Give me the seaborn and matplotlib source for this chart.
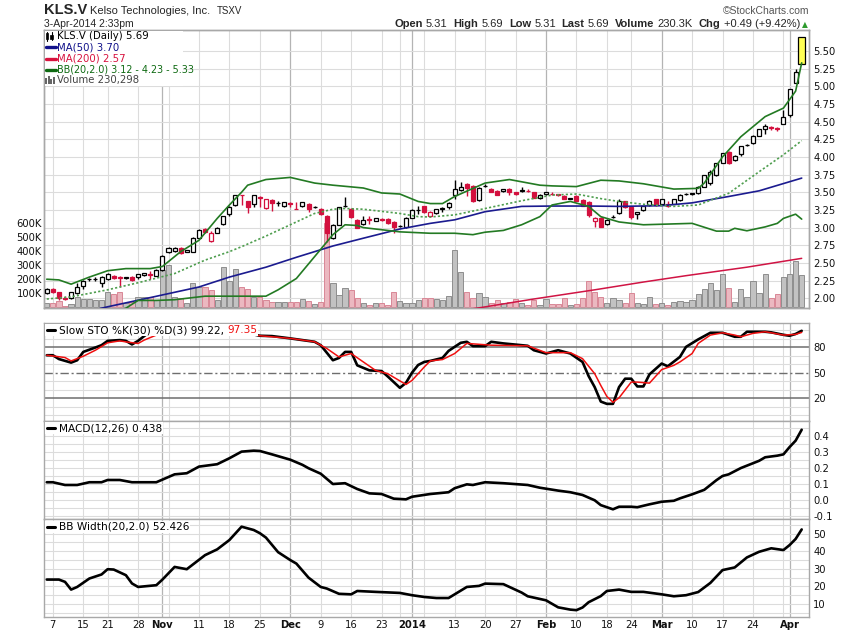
import numpy as np
import pandas as pd
import matplotlib
matplotlib.use("Agg")
import matplotlib.pyplot as plt
from matplotlib.lines import Line2D
from matplotlib.patches import Rectangle
from matplotlib.transforms import blended_transform_factory
import seaborn as sns

sns.set_theme(style="white")
plt.rcParams['font.family'] = ['DejaVu Sans']

# ---------------- data ----------------
holidays = ['2013-10-14', '2013-12-25', '2013-12-26', '2014-01-01', '2014-02-17']
dates = pd.bdate_range('2013-10-04', '2014-04-03', freq='C', holidays=holidays)

opens = [2.07, 2.13, 2.085, 1.99, 2.00, 2.07, 2.18, 2.27, 2.27, 2.22,
         2.27, 2.32, 2.30, 2.29, 2.305, 2.306, 2.325, 2.345, 2.32, 2.40,
         2.65, 2.67, 2.71, 2.66, 2.66, 2.85, 2.98, 2.81, 2.93, 3.05,
         3.19, 3.32, 3.46, 3.37, 3.34, 3.43, 3.28, 3.39, 3.35, 3.30,
         3.35, 3.27, 3.30, 3.34, 3.29, 3.27, 3.17, 2.85, 3.04, 3.30,
         3.27, 3.11, 3.05, 3.12, 3.10, 3.115, 3.12, 3.08, 3.02, 3.01,
         3.14, 3.25, 3.30, 3.16, 3.21, 3.27, 3.29, 3.46, 3.53, 3.62,
         3.59, 3.39, 3.585, 3.55, 3.52, 3.52, 3.55, 3.50, 3.52, 3.52,
         3.50, 3.42, 3.47, 3.48, 3.47, 3.45, 3.41, 3.45, 3.39, 3.36,
         3.09, 3.14, 3.05, 3.15, 3.20, 3.375, 3.295, 3.186, 3.25, 3.32,
         3.40, 3.33, 3.34, 3.34, 3.39, 3.475, 3.475, 3.49, 3.58, 3.63,
         3.74, 3.92, 4.07, 3.955, 4.04, 4.17, 4.19, 4.30, 4.39, 4.42,
         4.405, 4.465, 4.59, 5.05, 5.31]
highs = [2.14, 2.14, 2.09, 2.03, 2.09, 2.21, 2.26, 2.29, 2.30, 2.31,
         2.36, 2.33, 2.31, 2.30, 2.31, 2.35, 2.36, 2.39, 2.41, 2.61,
         2.72, 2.72, 2.72, 2.69, 2.86, 2.98, 2.99, 2.95, 3.01, 3.17,
         3.30, 3.46, 3.46, 3.38, 3.46, 3.44, 3.40, 3.40, 3.37, 3.36,
         3.36, 3.36, 3.36, 3.35, 3.30, 3.28, 3.18, 3.05, 3.29, 3.43,
         3.28, 3.12, 3.17, 3.17, 3.14, 3.13, 3.13, 3.09, 3.03, 3.15,
         3.26, 3.31, 3.31, 3.23, 3.27, 3.29, 3.36, 3.68, 3.64, 3.63,
         3.60, 3.57, 3.61, 3.56, 3.53, 3.55, 3.56, 3.51, 3.57, 3.55,
         3.51, 3.47, 3.51, 3.51, 3.48, 3.46, 3.42, 3.46, 3.40, 3.37,
         3.15, 3.15, 3.12, 3.18, 3.41, 3.38, 3.30, 3.22, 3.31, 3.39,
         3.41, 3.41, 3.37, 3.41, 3.48, 3.49, 3.49, 3.59, 3.75, 3.82,
         3.92, 4.06, 4.08, 4.02, 4.16, 4.18, 4.31, 4.40, 4.46, 4.44,
         4.43, 4.67, 4.96, 5.25, 5.69]
lows = [2.06, 2.08, 1.97, 1.97, 1.99, 2.06, 2.13, 2.25, 2.24, 2.16,
        2.26, 2.28, 2.155, 2.28, 2.25, 2.27, 2.32, 2.27, 2.31, 2.38,
        2.64, 2.66, 2.62, 2.65, 2.65, 2.84, 2.93, 2.80, 2.92, 3.03,
        3.16, 3.31, 3.32, 3.20, 3.29, 3.29, 3.27, 3.23, 3.30, 3.29,
        3.29, 3.26, 3.29, 3.22, 3.28, 3.18, 2.80, 2.84, 3.03, 3.29,
        3.14, 2.99, 3.04, 3.05, 3.09, 3.09, 3.05, 2.93, 3.01, 3.00,
        3.13, 3.19, 3.20, 3.15, 3.19, 3.22, 3.27, 3.40, 3.52, 3.44,
        3.36, 3.38, 3.57, 3.50, 3.46, 3.51, 3.46, 3.46, 3.51, 3.51,
        3.42, 3.41, 3.46, 3.46, 3.44, 3.40, 3.40, 3.37, 3.30, 3.15,
        3.01, 3.01, 3.04, 3.14, 3.19, 3.28, 3.12, 3.12, 3.24, 3.31,
        3.31, 3.32, 3.29, 3.33, 3.38, 3.46, 3.46, 3.48, 3.57, 3.60,
        3.73, 3.91, 3.90, 3.94, 4.01, 4.15, 4.18, 4.29, 4.33, 4.38,
        4.37, 4.46, 4.57, 5.04, 5.31]
closes = [2.13, 2.085, 2.01, 2.005, 2.085, 2.155, 2.245, 2.275, 2.28, 2.30,
          2.35, 2.29, 2.285, 2.295, 2.26, 2.34, 2.355, 2.335, 2.40, 2.60,
          2.71, 2.715, 2.636, 2.68, 2.85, 2.97, 2.94, 2.93, 3.00, 3.16,
          3.29, 3.46, 3.455, 3.29, 3.46, 3.425, 3.40, 3.35, 3.355, 3.36,
          3.33, 3.265, 3.36, 3.26, 3.29, 3.19, 2.93, 3.04, 3.29, 3.31,
          3.15, 3.00, 3.11, 3.105, 3.13, 3.11, 3.06, 3.01, 3.025, 3.14,
          3.25, 3.255, 3.22, 3.215, 3.26, 3.275, 3.35, 3.54, 3.58, 3.56,
          3.37, 3.56, 3.59, 3.50, 3.46, 3.55, 3.51, 3.47, 3.525, 3.515,
          3.42, 3.46, 3.50, 3.475, 3.465, 3.41, 3.415, 3.38, 3.31, 3.18,
          3.14, 3.01, 3.11, 3.155, 3.375, 3.295, 3.155, 3.215, 3.30, 3.375,
          3.32, 3.40, 3.30, 3.40, 3.46, 3.48, 3.485, 3.58, 3.74, 3.79,
          3.91, 4.05, 3.91, 4.01, 4.15, 4.175, 4.30, 4.39, 4.44, 4.415,
          4.40, 4.57, 4.955, 5.20, 5.69]
volume_k = [34, 34, 45, 10, 24, 71, 62, 57, 53, 53,
            107, 97, 107, 30, 35, 76, 71, 76, 53, 265,
            300, 71, 67, 34, 171, 147, 142, 123, 53, 284,
            187, 272, 142, 130, 76, 76, 50, 40, 35, 40,
            35, 40, 60, 45, 25, 40, 600, 171, 88, 140,
            123, 64, 29, 17, 29, 29, 17, 107, 46, 29,
            29, 53, 69, 69, 60, 53, 81, 407, 248, 107,
            64, 100, 74, 29, 53, 34, 41, 60, 29, 17,
            53, 17, 57, 24, 24, 64, 17, 24, 64, 187,
            112, 76, 29, 64, 53, 29, 100, 34, 25, 77,
            25, 34, 17, 41, 46, 41, 53, 93, 128, 171,
            124, 235, 135, 41, 128, 77, 190, 100, 235, 65,
            93, 213, 235, 329, 230.298]

ma50_day = [8, 10, 17, 25, 30, 36, 41, 47, 52, 58, 63, 67, 72, 78, 83, 89, 94, 101, 106, 112, 117, 124]
ma50_val = [1.84, 1.88, 2.01, 2.16, 2.30, 2.44, 2.58, 2.74, 2.85, 2.98, 3.06, 3.11, 3.225, 3.30, 3.305,
            3.305, 3.30, 3.31, 3.35, 3.44, 3.52, 3.70]
ma200_day = [69, 71, 80, 90, 98, 105, 115, 124]
ma200_val = [1.84, 1.865, 1.99, 2.12, 2.23, 2.32, 2.44, 2.565]
bbu_day = [0, 2, 4, 7, 10, 13, 17, 19, 22, 25, 28, 30, 32, 33, 36, 40, 44, 47, 52, 55, 58, 61, 63, 65,
           67, 72, 76, 81, 83, 87, 91, 94, 98, 103, 107, 108, 111, 114, 118, 121, 123, 124]
bbu_val = [2.27, 2.26, 2.20, 2.30, 2.39, 2.42, 2.42, 2.45, 2.66, 2.82, 3.13, 3.32, 3.50, 3.60, 3.68, 3.71,
           3.63, 3.60, 3.56, 3.49, 3.475, 3.37, 3.34, 3.34, 3.44, 3.63, 3.68, 3.60, 3.59, 3.58, 3.67, 3.66,
           3.62, 3.545, 3.555, 3.63, 4.00, 4.285, 4.57, 4.69, 4.93, 5.33]
bbm_day = [0, 4, 10, 15, 21, 26, 30, 32, 36, 41, 44, 47, 49, 52, 58, 61, 63, 67, 72, 78, 83, 87, 91, 94,
           98, 103, 107, 112, 117, 121, 124]
bbm_val = [1.99, 2.02, 2.12, 2.22, 2.35, 2.54, 2.66, 2.73, 2.88, 3.08, 3.20, 3.26, 3.27, 3.26, 3.20, 3.155,
           3.15, 3.18, 3.27, 3.38, 3.46, 3.475, 3.41, 3.37, 3.33, 3.30, 3.32, 3.485, 3.79, 4.03, 4.23]
bbl_day = [10, 13, 15, 18, 21, 24, 26, 29, 33, 36, 38, 41, 44, 47, 49, 51, 52, 55, 58, 63, 67, 70, 72,
           75, 78, 81, 83, 86, 89, 91, 94, 98, 106, 110, 112, 113, 115, 118, 120, 121, 123, 124]
bbl_val = [1.72, 1.86, 1.97, 1.97, 1.98, 2.01, 2.03, 2.03, 2.03, 2.03, 2.12, 2.28, 2.59, 2.90, 3.04, 3.03,
           3.00, 2.97, 2.94, 2.92, 2.92, 2.90, 2.935, 2.96, 3.04, 3.155, 3.32, 3.37, 3.30, 3.155, 3.08,
           3.04, 3.06, 2.95, 2.95, 2.99, 2.955, 3.01, 3.06, 3.13, 3.19, 3.12]

stok_day = [0, 1, 2, 4, 5, 6, 8, 9, 10, 12, 13, 14, 15, 16, 17, 18, 20, 23, 26, 29, 32, 35, 37, 40, 42,
            44, 45, 47, 48, 49, 50, 51, 53, 55, 56, 58, 59, 60, 61, 62, 63, 65, 66, 68, 69, 70, 72, 73,
            75, 79, 80, 82, 84, 86, 88, 89, 90, 91, 92, 93, 94, 95, 96, 97, 98, 99, 101, 102, 104, 105,
            107, 109, 111, 113, 114, 115, 118, 119, 121, 122, 123, 124]
stok_val = [70.5, 70.5, 66, 61.8, 64.6, 74.4, 79.6, 82.3, 87.4, 88.3, 87.4, 83.2, 87.4, 93.0, 98.1, 99,
            99, 97, 99, 100, 98, 93.4, 93, 90.3, 88.3, 86.3, 82.3, 64.6, 67.3, 74.4, 74.4, 58.6, 52.7,
            51.9, 45.6, 32.2, 38, 50, 59, 62.6, 63.8, 67.3, 75.6, 85.1, 86.3, 81.2, 81.2, 86.3, 84.4,
            81.6, 76.4, 72.5, 76.4, 72.5, 62.6, 46, 33, 16, 13.3, 13.3, 33, 42.9, 42.9, 33.8, 33.8, 48,
            60.7, 57.5, 68.5, 80.3, 89.1, 96.9, 96.9, 92.2, 92.2, 98.1, 98.1, 97.4, 94.5, 93.4, 95.5,
            99.22]
stod_day = [0, 3, 4, 6, 8, 10, 12, 13, 15, 16, 18, 20, 23, 26, 29, 32, 35, 40, 44, 46, 48, 50, 52, 54,
            56, 59, 60, 62, 63, 65, 67, 69, 73, 79, 82, 86, 88, 90, 91, 92, 93, 94, 96, 97, 99, 101,
            103, 104, 106, 107, 109, 111, 113, 114, 116, 118, 119, 121, 123, 124]
stod_val = [70.5, 67.8, 63.8, 69.3, 76.4, 85.1, 87.4, 86.2, 84.3, 88.3, 94.2, 97, 98, 98, 99, 98, 93.4,
            90.3, 86.3, 78.4, 68.5, 72.5, 62.6, 52.7, 48.8, 36.1, 40.9, 56.6, 63.8, 65.4, 72.5, 84.4,
            82.3, 81.6, 73.5, 73.5, 66.5, 48.8, 35, 22, 15.2, 20.4, 38.9, 38.9, 37.7, 53.6, 58.6, 62.6,
            72.5, 84.4, 94.2, 96.9, 94.2, 92.2, 96.2, 98.1, 96.9, 94.2, 95, 97.35]

macd_day = [0, 1, 3, 5, 7, 9, 10, 12, 14, 18, 21, 23, 25, 28, 30, 32, 34, 35, 37, 40, 42, 43, 45, 47,
            49, 51, 53, 55, 57, 59, 60, 63, 66, 67, 69, 70, 72, 75, 79, 81, 84, 86, 88, 90, 91, 93, 94,
            96, 97, 99, 101, 103, 104, 106, 108, 110, 111, 112, 114, 117, 118, 120, 121, 122, 123, 124]
macd_val = [0.112, 0.112, 0.095, 0.095, 0.112, 0.112, 0.126, 0.126, 0.112, 0.112, 0.161, 0.168, 0.209,
            0.224, 0.261, 0.302, 0.308, 0.306, 0.285, 0.252, 0.22, 0.199, 0.165, 0.101, 0.106, 0.070,
            0.043, 0.039, 0.010, 0.006, 0.022, 0.039, 0.050, 0.075, 0.099, 0.095, 0.112, 0.106, 0.095,
            0.078, 0.060, 0.050, 0.033, 0.0, -0.03, -0.056, -0.040, -0.040, -0.043, -0.025, -0.009,
            -0.003, 0.012, 0.037, 0.065, 0.125, 0.151, 0.161, 0.20, 0.245, 0.267, 0.277, 0.285, 0.33,
            0.37, 0.438]

bbw_day = [0, 2, 3, 4, 5, 7, 9, 10, 11, 13, 14, 15, 18, 19, 21, 23, 26, 28, 30, 32, 34, 35, 36, 38,
           40, 41, 43, 45, 46, 48, 50, 51, 54, 58, 60, 62, 64, 66, 69, 71, 72, 75, 78, 79, 82, 84, 86,
           87, 88, 89, 91, 92, 94, 96, 98, 101, 103, 105, 107, 109, 111, 113, 115, 117, 119, 121, 122,
           123, 124]
bbw_val = [23.9, 23.9, 22.6, 18.2, 19.7, 24.5, 26.8, 29.8, 29.6, 26.4, 21.7, 19.7, 20.7, 23.9, 31.1,
           29.8, 37.8, 41.1, 46.4, 54.0, 52.1, 50.3, 47.8, 39.5, 35, 33, 25, 19.7, 18.8, 15.8, 15.5,
           17.4, 16.9, 16.3, 15, 14, 13.4, 13.4, 19.7, 20.3, 21.6, 21.3, 16.5, 14.4, 12.1, 8.1, 6.8,
           6.5, 8, 11, 14.5, 17.4, 18.2, 16.9, 16.9, 15.5, 14.4, 15, 16.8, 22, 29.3, 30.8, 36.5, 39.7,
           41.7, 40.7, 43.5, 47, 52.426]

price_ticks = [2.00, 2.25, 2.50, 2.75, 3.00, 3.25, 3.50, 3.75, 4.00, 4.25, 4.50, 4.75, 5.00, 5.25, 5.50]
vol_ticks_k = [100, 200, 300, 400, 500, 600]

# ---------------- styling ----------------
RED = '#D3103E'
NAVY = '#1B1B8F'
MA200C = '#D01444'
GREEN = '#237A23'
GREEN_MID = '#4F9E4F'
GRID = '#DCDCDC'
GRID_DARK = '#B4B4B4'
SPINE = '#A8A8A8'
TICKC = '#111111'

W, H = 850, 633
fig = plt.figure(figsize=(W / 100, H / 100), dpi=100)
fig.patch.set_facecolor('white')
L, R = 44, 809


def fx(px):
    return px / W


def fy(py):
    return 1 - py / H


def add_ax(top, bot):
    return fig.add_axes([fx(L), fy(bot), fx(R) - fx(L), (bot - top) / H])


ax_v = add_ax(30, 308)
ax_p = ax_v.twinx()
ax_s = add_ax(323, 420.7)
ax_m = add_ax(420.7, 519.3)
ax_b = add_ax(519.3, 617)

n = len(closes)
idx = np.arange(n)
o = np.array(opens); h = np.array(highs); lo = np.array(lows); c = np.array(closes)
vol = np.array(volume_k) * 1000.0
prev = np.r_[c[0] - 1, c[:-1]]
up = c >= prev
XL = (-0.45, 125.2)

# trading calendar ticks
dser = pd.Series(dates)
week_first = dser.groupby(dser.dt.isocalendar().week.values).apply(lambda s: s.index[0]).values
month_first = dser.groupby(dser.dt.month.values).apply(lambda s: s.index[0]).values
month_first = [m for m in month_first if m != 0]
grid_pos = sorted(set(list(week_first) + list(month_first)))
grid_pos = [g for g in grid_pos if g > 0]
labels = {}
for m in month_first:
    d = dates[m]
    labels[m] = ('2014' if d.month == 1 else d.strftime('%b'), True)
for wk in week_first:
    if wk == 0 or wk in labels:
        continue
    if any(abs(wk - m) <= 3 for m in month_first):
        continue
    labels[wk] = (str(dates[wk].day), False)
tick_pos = sorted(labels)
tick_lab = [labels[t][0] for t in tick_pos]
tick_bold = [labels[t][1] for t in tick_pos]


def style_axes(ax):
    ax.set_xlim(*XL)
    for s in ax.spines.values():
        s.set_color(SPINE)
        s.set_linewidth(1.0)
    ax.set_xlabel('')
    ax.set_ylabel('')


def vgrid(ax):
    for g in grid_pos:
        ax.axvline(g, color=GRID_DARK if g in month_first else GRID, lw=0.9 if g in month_first else 0.8,
                   zorder=0.3)


def set_xticks(ax, show):
    ax.set_xticks(tick_pos)
    if show:
        ax.set_xticklabels(tick_lab, fontsize=7.2, color=TICKC)
        for tl, b in zip(ax.get_xticklabels(), tick_bold):
            if b:
                tl.set_fontweight('bold')
    else:
        ax.set_xticklabels([])
    ax.tick_params(axis='x', length=0, pad=2.2)


# ---------------- price + volume ----------------
vgrid(ax_v)
trp = blended_transform_factory(ax_v.transAxes, ax_p.transData)
for pt in price_ticks:
    ax_v.add_line(Line2D([0, 1], [pt, pt], transform=trp, color=GRID, lw=0.8, zorder=0.3))

ax_v.bar(idx, vol, width=0.86, color=np.where(up, '#C2C2C2', '#EBB8C0'),
         edgecolor=np.where(up, '#8E8E8E', '#D98796'), linewidth=0.7, zorder=1)
ax_v.set_ylim(-4e3, 1.961e6)
ax_v.set_yticks([v * 1000 for v in vol_ticks_k])
ax_v.set_yticklabels([f'{v}K' for v in vol_ticks_k], fontsize=7.2, color=TICKC)
ax_v.tick_params(axis='y', length=0, pad=1.5)
style_axes(ax_v)
set_xticks(ax_v, True)

col = np.where(up, 'black', RED)
col = col.astype(object)
col[-1] = 'black'
filled = c < o
face = np.where(filled, col, 'white').astype(object)
face[-1] = '#FFFF55'
bottom = np.minimum(o, c)
height = np.maximum(np.abs(c - o), 0.004)
widths = np.full(n, 0.66)
widths[-1] = 1.05
ax_p.vlines(idx, lo, h, colors=list(col), linewidth=1.0, zorder=2)
ax_p.bar(idx, height, width=widths, bottom=bottom, color=list(face), edgecolor=list(col),
         linewidth=0.9, zorder=3)

sns.lineplot(x=ma200_day, y=ma200_val, ax=ax_p, color=MA200C, lw=1.1, estimator=None, zorder=4)
sns.lineplot(x=ma50_day, y=ma50_val, ax=ax_p, color=NAVY, lw=1.2, estimator=None, zorder=4)
sns.lineplot(x=bbm_day, y=bbm_val, ax=ax_p, color=GREEN_MID, lw=1.2, estimator=None, zorder=4,
             linestyle=(0, (1.3, 1.3)))
sns.lineplot(x=bbu_day, y=bbu_val, ax=ax_p, color=GREEN, lw=1.2, estimator=None, zorder=4)
sns.lineplot(x=bbl_day, y=bbl_val, ax=ax_p, color=GREEN, lw=1.2, estimator=None, zorder=4)

ax_p.set_ylim(1.8628, 5.795)
ax_p.set_yticks(price_ticks)
ax_p.set_yticklabels([f'{t:.2f}' for t in price_ticks], fontsize=7.2, color=TICKC)
ax_p.tick_params(axis='y', length=0, pad=3)
style_axes(ax_p)
ax_p.set_xticks([])

# ---------------- stochastic ----------------
vgrid(ax_s)
for gv in [0, 10, 30, 40, 60, 70, 90, 100]:
    ax_s.axhline(gv, color=GRID, lw=0.8, zorder=0.3)
ax_s.axhline(80, color='#6E6E6E', lw=1.1, zorder=0.5)
ax_s.axhline(20, color='#6E6E6E', lw=1.1, zorder=0.5)
ax_s.axhline(50, color='#6E6E6E', lw=1.0, zorder=0.5, linestyle=(0, (6, 2, 1.5, 2)))
sns.lineplot(x=stod_day, y=stod_val, ax=ax_s, color='#F01010', lw=1.1, estimator=None, zorder=3)
sns.lineplot(x=stok_day, y=stok_val, ax=ax_s, color='black', lw=1.9, estimator=None, zorder=2)
ax_s.set_ylim(-6.5, 108.4)
ax_s.yaxis.tick_right()
ax_s.set_yticks([20, 50, 80])
ax_s.set_yticklabels(['20', '50', '80'], fontsize=7.2, color=TICKC)
ax_s.tick_params(axis='y', length=0, pad=3)
style_axes(ax_s)
set_xticks(ax_s, False)

# ---------------- MACD ----------------
vgrid(ax_m)
for gv in np.arange(-0.1, 0.5, 0.05):
    ax_m.axhline(gv, color=GRID, lw=0.8, zorder=0.3)
sns.lineplot(x=macd_day, y=macd_val, ax=ax_m, color='black', lw=1.9, estimator=None, zorder=3)
ax_m.set_ylim(-0.118, 0.494)
ax_m.yaxis.tick_right()
mt = [-0.1, 0.0, 0.1, 0.2, 0.3, 0.4]
ax_m.set_yticks(mt)
ax_m.set_yticklabels([f'{t:.1f}' for t in mt], fontsize=7.2, color=TICKC)
ax_m.tick_params(axis='y', length=0, pad=3)
style_axes(ax_m)
set_xticks(ax_m, False)

# ---------------- BB width ----------------
vgrid(ax_b)
for gv in range(5, 60, 5):
    ax_b.axhline(gv, color=GRID, lw=0.8, zorder=0.3)
sns.lineplot(x=bbw_day, y=bbw_val, ax=ax_b, color='black', lw=1.9, estimator=None, zorder=3)
ax_b.set_ylim(2.6, 58.2)
ax_b.yaxis.tick_right()
bt = [10, 20, 30, 40, 50]
ax_b.set_yticks(bt)
ax_b.set_yticklabels([str(t) for t in bt], fontsize=7.2, color=TICKC)
ax_b.tick_params(axis='y', length=0, pad=3)
style_axes(ax_b)
set_xticks(ax_b, True)

# ---------------- texts ----------------
renderer = fig.canvas.get_renderer()


def seq_text(x, y, parts, ha='left', zorder=10, bg=None):
    arts, ws = [], []
    for s, kw, gap in parts:
        t = fig.text(0, 0, s, va='center', ha='left', zorder=zorder, **kw)
        bb = t.get_window_extent(renderer=renderer)
        arts.append(t)
        ws.append(bb.width + gap)
    total = sum(ws)
    cur = x if ha == 'left' else x - total
    if bg is not None:
        fig.add_artist(Rectangle((fx(cur - 1), fy(y + bg / 2)), (total + 2) / W, bg / H,
                                 transform=fig.transFigure, facecolor='white', edgecolor='none',
                                 zorder=zorder - 1))
    for t, w in zip(arts, ws):
        t.set_position((fx(cur), fy(y)))
        cur += w
    return cur


HF = ['Liberation Sans', 'DejaVu Sans']
seq_text(44, 10.5, [('KLS.V', dict(fontsize=10.5, fontweight='bold', family=HF), 3),
                    ('Kelso Technologies, Inc.', dict(fontsize=8, family=HF), 6),
                    ('TSXV', dict(fontsize=7, family=HF), 0)])
fig.text(fx(44), fy(23.8), '3-Apr-2014 2:33pm', fontsize=7.5, family=HF, va='center', ha='left')
fig.text(fx(809), fy(10.5), '\u00a9StockCharts.com', fontsize=7.5, family=HF, va='center', ha='right',
         color='#555555')
B = dict(fontsize=8, fontweight='bold', family=HF)
Nn = dict(fontsize=8, family=HF)
seq_text(800, 23.8, [('Open', B, 3), ('5.31', Nn, 6), ('High', B, 3), ('5.69', Nn, 6),
                     ('Low', B, 3), ('5.31', Nn, 6), ('Last', B, 3), ('5.69', Nn, 6),
                     ('Volume', B, 3), ('230.3K', Nn, 6), ('Chg', B, 3), ('+0.49 (+9.42%)', Nn, 0)],
         ha='right')
fig.text(fx(805), fy(24.5), '\u25b2', fontsize=5.5, color='#2E9A2E', va='center', ha='center')

# price legend (white box behind)
fig.add_artist(Rectangle((fx(44.6), fy(86)), (183 - 44.6) / W, (86 - 30.6) / H, transform=fig.transFigure,
                         facecolor='white', edgecolor='none', zorder=8))
LF = dict(fontsize=7.3)
leg_y = [36, 47.3, 58.7, 69.7, 80.3]
for xx, y0, y1, yb0, yb1 in [(47, 31.5, 40.5, 33, 39), (51.5, 32, 40, 34.5, 38.5)]:
    fig.add_artist(Line2D([fx(xx), fx(xx)], [fy(y0), fy(y1)], transform=fig.transFigure, color='black',
                          lw=0.8, zorder=10))
    fig.add_artist(Rectangle((fx(xx - 1.3), fy(yb1)), 2.6 / W, (yb1 - yb0) / H, transform=fig.transFigure,
                             facecolor='black', edgecolor='black', lw=0.5, zorder=10))
fig.text(fx(57.5), fy(leg_y[0]), 'KLS.V (Daily) 5.69', color='black', va='center', zorder=10, **LF)
for yy, txt, cc in [(leg_y[1], 'MA(50) 3.70', '#10108A'), (leg_y[2], 'MA(200) 2.57', '#D8123E'),
                    (leg_y[3], 'BB(20,2.0) 3.12 - 4.23 - 5.33', '#0E6A12')]:
    fig.add_artist(Line2D([fx(45.5), fx(56)], [fy(yy), fy(yy)], transform=fig.transFigure, color=cc, lw=2.4,
                          zorder=10))
    fig.text(fx(57.5), fy(yy), txt, color=cc, va='center', zorder=10,
             fontsize=6.9 if txt.startswith('BB') else 7.3)
for k, (xx, hh) in enumerate([(46, 6), (48.6, 8), (51.2, 5), (53.8, 7)]):
    fig.add_artist(Rectangle((fx(xx - 0.9), fy(84)), 1.8 / W, hh / H, transform=fig.transFigure,
                             facecolor='#666666', edgecolor='none', zorder=10))
fig.text(fx(57.5), fy(leg_y[4]), 'Volume 230,298', color='#444444', va='center', zorder=10, **LF)

# lower panel legends
LF2 = dict(fontsize=7.6)
for yy, parts in [(330.2, [('Slow STO %K(30) %D(3) 99.22, ', dict(color='black', **LF2), 0),
                           ('97.35', dict(color='#F01010', **LF2), 0)]),
                  (428.4, [('MACD(12,26) 0.438', dict(color='black', **LF2), 0)]),
                  (526.6, [('BB Width(20,2.0) 52.426', dict(color='black', **LF2), 0)])]:
    end = seq_text(59, yy, parts, bg=12)
    fig.add_artist(Rectangle((fx(45), fy(yy + 6)), (59 - 45) / W, 12 / H, transform=fig.transFigure,
                             facecolor='white', edgecolor='none', zorder=9))
    fig.add_artist(Line2D([fx(47), fx(55)], [fy(yy), fy(yy)], transform=fig.transFigure, color='black',
                          lw=2.2, zorder=10))

fig.savefig('out.png', dpi=100, facecolor='white')
